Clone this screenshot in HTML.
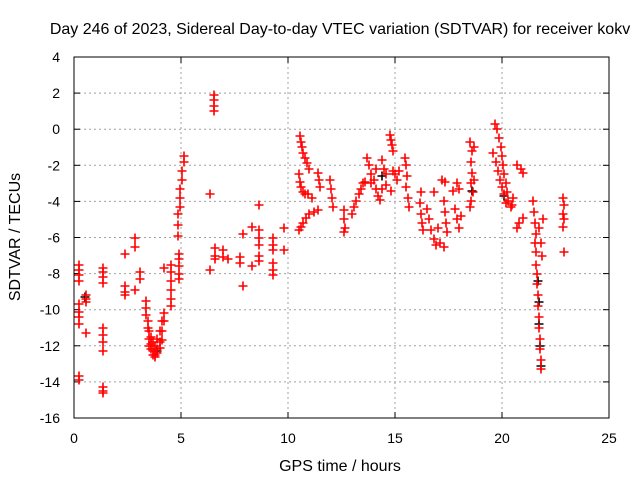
<!DOCTYPE html>
<html><head><meta charset="utf-8"><style>
body{margin:0;background:#fff;}
svg{display:block;font-family:"Liberation Sans",sans-serif;}
</style></head><body>
<svg id="chart" width="640" height="480">
<text x="340" y="34" text-anchor="middle" font-size="16">Day 246 of 2023, Sidereal Day-to-day VTEC variation (SDTVAR) for receiver kokv</text>
<text x="340" y="471" text-anchor="middle" font-size="16">GPS time / hours</text>
<text transform="translate(20,237) rotate(-90)" text-anchor="middle" font-size="16">SDTVAR / TECUs</text>
<g id="grid"></g>
<g id="ticks"></g>
<g id="marksBlack"></g>
<g id="marksRed"></g>
<rect x="74" y="57" width="535" height="361" fill="none" stroke="#000" stroke-width="1"/>
</svg>
<script>
const xTicks=[0,5,10,15,20,25];
const yTicks=[-16,-14,-12,-10,-8,-6,-4,-2,0,2,4];
const redT=[0.25,0.25,0.25,0.25,0.25,0.25,0.25,0.25,0.25,0.25,0.55,0.55,0.55,0.55,
1.35,1.35,1.35,1.35,1.35,1.35,1.35,1.35,1.35,1.35,1.35,
2.4,2.4,2.4,2.4,2.85,2.85,2.85,3.1,3.1,3.35,3.35,3.35,3.45,3.45,
3.5,3.5,3.5,3.6,3.6,3.6,3.7,3.7,3.7,3.8,3.8,3.8,3.9,3.9,3.9,4.0,4.0,4.0,4.1,4.1,4.1,4.2,4.2,4.2,
4.55,4.55,4.55,4.55,4.55,4.55,4.9,4.9,4.9,4.9,4.9,4.85,4.85,4.85,4.95,4.95,4.95,5.05,5.05,5.15,5.15,
6.35,6.35,6.55,6.55,6.55,6.55,6.6,6.6,6.6,6.95,6.95,7.2,7.75,7.75,7.9,7.9,8.3,8.3,
8.65,8.65,8.65,8.65,8.65,8.65,9.3,9.3,9.3,9.3,9.3,9.3,9.8,9.8,
10.55,10.6,10.65,10.7,10.8,10.9,11.0,10.5,10.55,10.6,10.7,10.8,10.95,11.1,
10.5,10.6,10.7,10.85,11.0,11.2,11.4,11.4,11.45,11.5,11.95,12.0,12.05,12.1,
12.6,12.6,12.65,12.6,13.0,13.1,13.2,13.3,13.4,13.5,13.6,
13.7,13.8,13.9,14.0,14.1,14.2,14.3,13.9,14.1,14.4,14.5,14.6,14.4,14.6,14.8,
14.75,14.8,14.85,14.9,14.9,15.0,15.1,15.2,15.45,15.5,15.55,15.5,15.6,15.65,
16.2,16.15,16.2,16.25,16.3,16.5,16.6,16.7,16.8,16.9,17.1,17.3,17.0,16.8,
17.2,17.35,17.3,17.35,17.4,17.45,17.7,17.9,18.0,17.8,17.9,18.0,18.1,
18.5,18.6,18.55,18.6,18.55,18.65,18.55,18.5,18.7,18.7,
19.65,19.75,19.85,19.95,20.0,20.05,20.1,20.2,20.25,20.3,
19.6,19.7,19.8,19.9,20.0,20.1,20.2,20.4,20.5,20.45,
20.7,20.9,21.0,20.7,20.8,21.0,
21.45,21.5,21.55,21.6,21.55,21.6,21.75,21.8,21.85,21.9,
21.6,21.62,21.65,21.67,21.7,21.72,21.74,21.76,21.78,21.8,21.82,
22.85,22.9,22.85,22.9,22.85,22.9];
const redV=[-7.5,-7.8,-8.1,-8.4,-9.7,-10.1,-10.4,-10.8,-13.7,-13.9,-9.2,-9.4,-9.6,-11.3,
-7.7,-7.9,-8.2,-8.5,-11.0,-11.4,-11.8,-12.3,-14.3,-14.5,-14.6,
-6.9,-8.7,-9.0,-9.2,-6.0,-6.5,-8.9,-7.9,-8.3,-9.5,-9.9,-10.3,-10.6,-11.0,
-11.2,-11.6,-12.0,-11.5,-11.9,-12.2,-11.8,-12.3,-12.5,-12.0,-12.5,-12.6,-11.6,-12.2,-12.4,-11.2,-11.8,-12.1,-10.6,-11.2,-11.7,-10.2,-10.6,-7.7,
-7.5,-7.9,-8.4,-8.9,-9.4,-9.8,-6.9,-7.2,-7.6,-8.0,-8.3,-5.9,-5.3,-4.7,-4.3,-3.8,-3.3,-2.8,-2.3,-1.8,-1.5,
-3.6,-7.8,1.0,1.3,1.6,1.9,-6.6,-7.0,-7.2,-6.7,-7.1,-7.2,-7.1,-7.4,-5.8,-8.7,-5.4,-7.6,
-4.2,-5.6,-6.0,-6.4,-7.0,-7.3,-6.0,-6.4,-6.7,-7.4,-7.8,-8.1,-5.5,-6.7,
-0.4,-0.7,-1.0,-1.3,-1.6,-1.9,-2.2,-2.5,-2.9,-3.2,-3.5,-3.6,-3.6,-3.8,
-5.6,-5.4,-5.2,-4.9,-4.7,-4.6,-4.5,-2.4,-2.8,-3.2,-2.8,-3.3,-3.8,-4.3,
-4.5,-5.0,-5.5,-5.7,-4.7,-4.3,-4.0,-3.6,-3.3,-3.0,-2.9,
-1.6,-2.0,-2.5,-2.8,-3.3,-3.7,-3.9,-3.0,-2.2,-1.7,-2.2,-2.5,-3.3,-3.1,-3.4,
-0.3,-0.6,-0.9,-1.2,-2.3,-2.5,-2.8,-2.3,-1.6,-2.0,-2.6,-3.2,-3.8,-4.3,
-3.5,-4.1,-4.7,-5.2,-5.6,-4.4,-5.0,-5.6,-6.1,-6.4,-6.3,-6.5,-5.5,-3.5,
-2.8,-2.9,-4.0,-4.6,-5.2,-5.7,-3.4,-3.0,-3.3,-4.4,-5.0,-5.5,-4.8,
-0.7,-1.2,-1.8,-2.4,-3.0,-3.5,-4.0,-4.3,-1.0,-2.8,
0.3,0.0,-0.5,-1.0,-1.5,-2.0,-2.5,-3.0,-3.5,-4.0,
-1.3,-1.8,-2.3,-2.8,-3.2,-3.6,-4.1,-4.3,-3.8,-4.2,
-2.0,-2.2,-2.4,-5.5,-5.2,-4.9,
-4.0,-4.6,-5.2,-5.8,-6.3,-6.8,-5.5,-6.3,-7.0,-5.0,
-7.5,-8.0,-8.6,-9.2,-9.8,-10.4,-11.0,-11.6,-12.2,-12.8,-13.3,
-3.8,-4.2,-4.7,-5.0,-5.4,-6.8];
const blackT=[0.5,3.9,14.4,18.6,20.1,21.7,21.72,21.75,21.78,21.8];
const blackV=[-9.3,-12.3,-2.6,-3.4,-3.7,-8.4,-9.6,-10.8,-12.0,-13.1];

const X0=74,X1=609,Y0=418,Y1=57;
function sx(t){return X0+(t-0)/(25-0)*(X1-X0);}
function sy(v){return Y0-(v+16)/(4+16)*(Y0-Y1);}
const NS="http://www.w3.org/2000/svg";
function mk(tag,attrs){const e=document.createElementNS(NS,tag);for(const k in attrs)e.setAttribute(k,attrs[k]);return e;}
const grid=document.getElementById('grid'),ticks=document.getElementById('ticks');
xTicks.forEach(t=>{
  const x=sx(t);
  if(t>0&&t<25){const g=mk('line',{x1:x,x2:x,y1:Y1,y2:Y0,stroke:'#a0a0a0','stroke-dasharray':'2,3'});
  
  
  grid.appendChild(g);}
  ticks.appendChild(mk('line',{x1:x,x2:x,y1:Y0,y2:Y0-6,stroke:'#000'}));
  ticks.appendChild(mk('line',{x1:x,x2:x,y1:Y1,y2:Y1+6,stroke:'#000'}));
  const l=mk('text',{x:x,y:443,'text-anchor':'middle','font-size':'14'});l.textContent=t;
  
  
  ticks.appendChild(l);
});
yTicks.forEach(v=>{
  const y=sy(v);
  if(v>-16&&v<4){const g=mk('line',{x1:X0,x2:X1,y1:y,y2:y,stroke:'#a0a0a0','stroke-dasharray':'2,3'});
  
  
  grid.appendChild(g);}
  ticks.appendChild(mk('line',{x1:X0,x2:X0+6,y1:y,y2:y,stroke:'#000'}));
  ticks.appendChild(mk('line',{x1:X1,x2:X1-6,y1:y,y2:y,stroke:'#000'}));
  const l=mk('text',{x:60,y:y+5,'text-anchor':'end','font-size':'14'});l.textContent=v;
  
  
  ticks.appendChild(l);
});
function plus(g,t,v,col){
  const x=Math.round(sx(t)),y=Math.round(sy(v));
  const p=mk('path',{d:`M${x-4.5},${y}H${x+4.5}M${x},${y-4.5}V${y+4.5}`,stroke:col,'stroke-width':'1.6',fill:'none'});
  
  
  g.appendChild(p);
}
const gb=document.getElementById('marksBlack'),gr=document.getElementById('marksRed');
blackT.forEach((t,i)=>plus(gb,t,blackV[i],'#000000'));
redT.forEach((t,i)=>plus(gr,t,redV[i],'#ff0000'));
</script>
</body></html>
